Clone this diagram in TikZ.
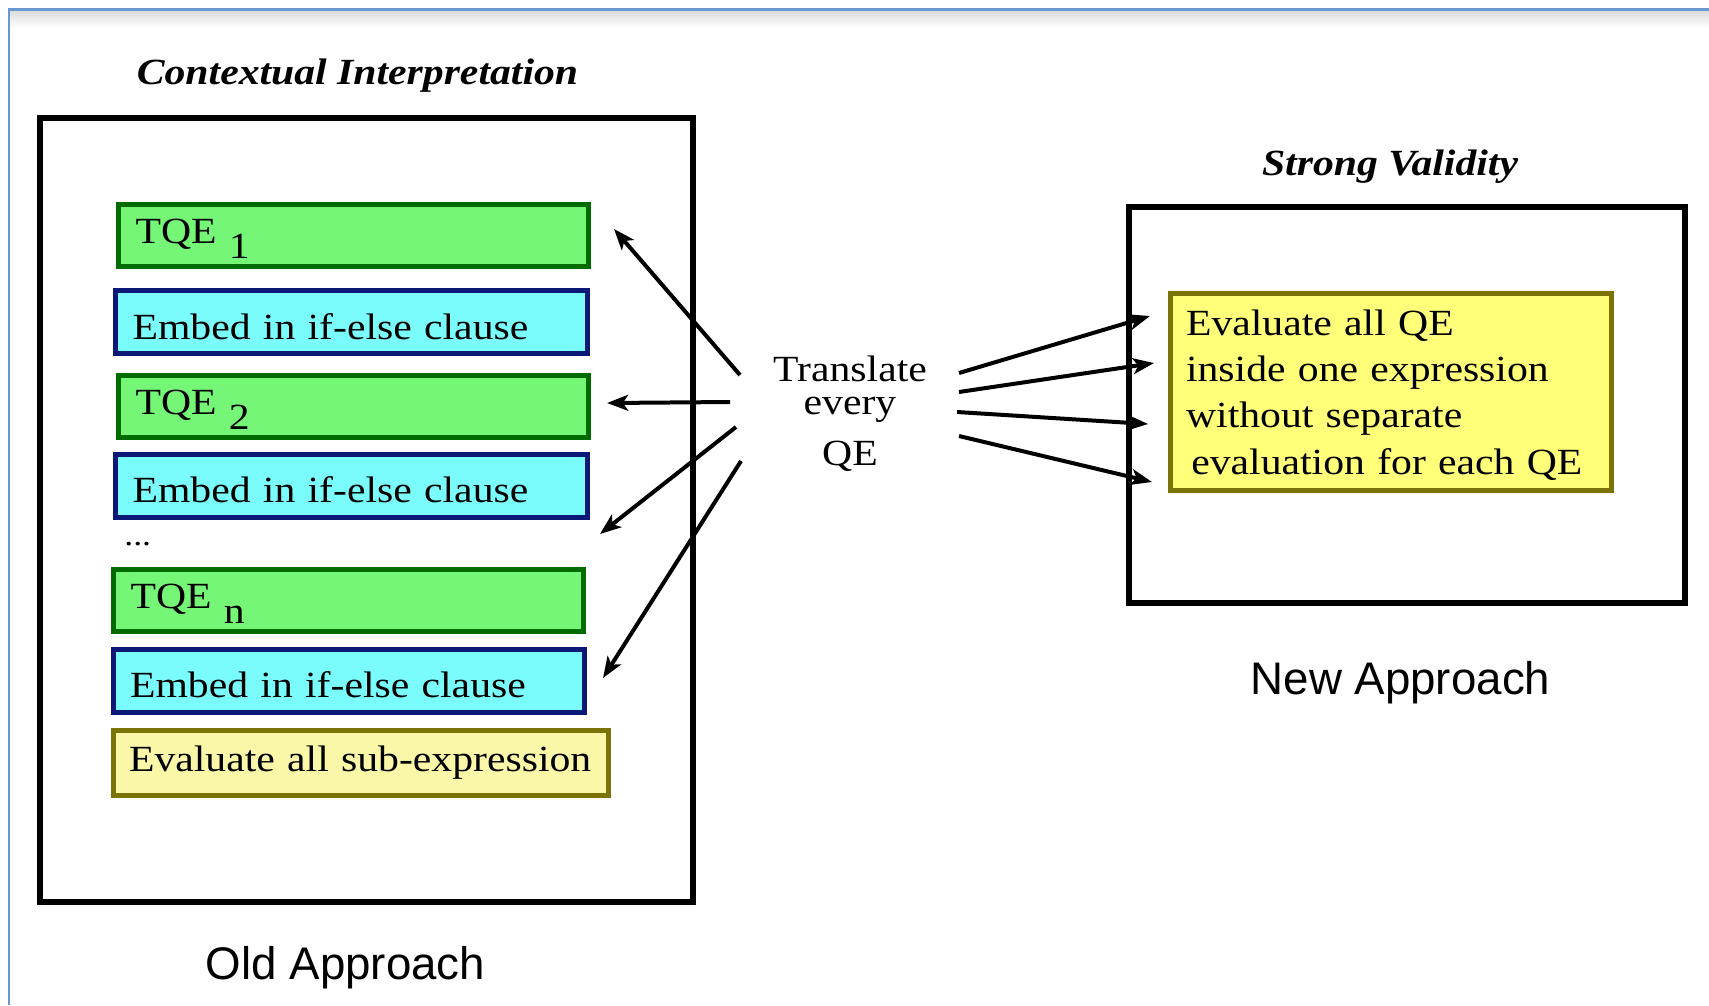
\documentclass[tikz,border=0pt]{standalone}
\usepackage{fontspec}
\setmainfont{Liberation Serif}[FakeStretch=1.13]
\setsansfont{Liberation Sans}
\usetikzlibrary{arrows.meta,positioning}

\definecolor{framecol}{RGB}{104,152,212}
\definecolor{tqefill}{RGB}{118,246,118}
\definecolor{tqeline}{RGB}{0,108,0}
\definecolor{embfill}{RGB}{122,252,252}
\definecolor{embline}{RGB}{12,24,120}
\definecolor{evalfill}{RGB}{250,248,168}
\definecolor{evalline}{RGB}{122,116,8}
\definecolor{allfill}{RGB}{255,255,122}

\newcommand{\tqesub}[1]{TQE \raisebox{-9pt}{#1}}

\tikzset{
  bigbox/.style={draw, line width=0.12cm, inner sep=0pt},
  bar/.style={draw, line width=0.1cm, inner xsep=0.34cm, inner ysep=0.1cm, align=left},
  tqebox/.style={bar, fill=tqefill, draw=tqeline, text width=8.72cm, minimum height=1.24cm, text height=0.55cm, text depth=0.25cm},
  embedbox/.style={bar, fill=embfill, draw=embline, text width=8.76cm, minimum height=1.26cm, text height=0.74cm, text depth=0.06cm},
  evalbox/.style={bar, fill=evalfill, draw=evalline, inner xsep=0.31cm, text width=9.28cm, minimum height=1.3cm, text height=0.56cm, text depth=0.24cm},
  allbox/.style={draw=evalline, fill=allfill, line width=0.1cm, inner xsep=0.31cm, inner ysep=0pt, align=left, text width=8.2cm, minimum height=3.94cm},
  title/.style={font=\bfseries\itshape\fontsize{21}{25}\selectfont},
  caption/.style={font=\sffamily\fontsize{26}{30}\selectfont},
  qearrow/.style={-{Stealth[length=12pt,width=9pt,inset=3pt]}, line width=0.08cm},
}

\begin{document}
\begin{tikzpicture}[x=0.02cm, y=-0.02cm, font=\fontsize{21}{26.3}\selectfont]
\useasboundingbox (0,0) rectangle (1709,1005);

% page frame
\shade[top color=black!14, bottom color=white] (10.5,10.5) rectangle (1709,28);
\draw[framecol, line width=0.06cm] (1709,9) -- (9,9) -- (9,1005);

% old approach
\node[bigbox, minimum width=13.06cm, minimum height=15.68cm] (oldbox) at (366.5,510) {};
\node[title] (oldtitle) at (357.5,75.5) {Contextual Interpretation};
\node[caption] (oldcap) at (345.5,967.5) {Old Approach};

\foreach \i/\sub/\xa/\ya/\xb/\yb in {1/1/353.5/235.5/351.5/322, 2/2/353.5/406.5/351.5/485.5, 3/n/348.5/600.5/349/680.5}{
  \node[tqebox] (tqe\i) at (\xa,\ya) {\tqesub{\sub}};
  \node[embedbox] (embed\i) at (\xb,\yb) {Embed in if-else clause};
}
\node[anchor=base west, inner sep=0pt, font=\fontsize{18}{20}\selectfont] (dots) at (124,545) {...};
\node[evalbox] (evalsub) at (361,763) {Evaluate all sub-expression};

% new approach
\node[bigbox, minimum width=11.12cm, minimum height=7.92cm] (newbox) at (1407,405) {};
\node[title] (newtitle) at (1390,167) {Strong Validity};
\node[caption] (newcap) at (1400.5,682.5) {New Approach};
\node[allbox] (evalall) at (1391,392.4) {\rule{0pt}{22.1pt}Evaluate all QE\\ \strut inside one expression\\ \strut without separate\\ \strut\hspace*{3pt}evaluation for each QE};

% translation
\node[align=center, font=\fontsize{21}{19}\selectfont] (translate) at (850,413.4) {Translate\\every\\[10pt]QE};

\coordinate (lt1) at (740,375); \coordinate (lh1) at (614,229);
\coordinate (lt2) at (730,402); \coordinate (lh2) at (607,403);
\coordinate (lt3) at (736,427); \coordinate (lh3) at (600,534);
\coordinate (lt4) at (741,461); \coordinate (lh4) at (603,678);
\coordinate (rt1) at (959,373); \coordinate (rh1) at (1150,316);
\coordinate (rt2) at (959,392); \coordinate (rh2) at (1154,363);
\coordinate (rt3) at (957,412); \coordinate (rh3) at (1148,424);
\coordinate (rt4) at (959,436); \coordinate (rh4) at (1152,482);

\foreach \k in {1,...,4}{
  \draw[qearrow] (lt\k) -- (lh\k);
  \draw[qearrow] (rt\k) -- (rh\k);
}

\end{tikzpicture}
\end{document}
